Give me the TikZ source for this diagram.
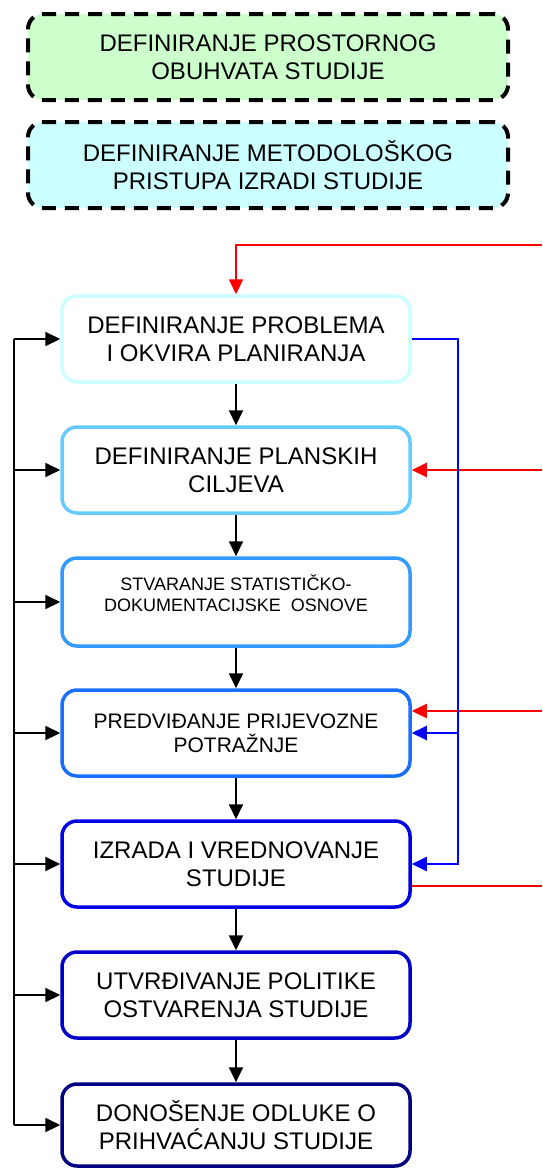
\documentclass[tikz,border=0pt]{standalone}
\usepackage{fontspec}
\setmainfont{Liberation Sans}
\usetikzlibrary{arrows.meta}

\definecolor{zelenaPod}{HTML}{CCFFCC}
\definecolor{plavaPod}{HTML}{CCFFFF}
\definecolor{rubA}{HTML}{CCFFFF}
\definecolor{rubB}{HTML}{66CCFF}
\definecolor{rubC}{HTML}{3399FF}
\definecolor{rubD}{HTML}{1A6FFF}
\definecolor{rubE}{HTML}{0000E6}
\definecolor{rubF}{HTML}{0000C8}
\definecolor{rubG}{HTML}{000080}

\begin{document}
\begin{tikzpicture}
    [ x=1pt, y=-1pt
    , korak/.style={draw, rounded corners=15pt, minimum width=348pt, minimum height=86pt,
                    line width=3.5pt, align=center, font=\fontsize{24}{27.5}\selectfont}
    , okvir/.style={draw, rounded corners=15pt, minimum width=480pt, minimum height=86pt,
                    line width=4pt, dash pattern=on 14pt off 9pt, align=center,
                    font=\fontsize{24}{27.5}\selectfont}
    , veza/.style={-{Triangle[length=15pt,width=14pt]}, line width=2pt}
    , vod/.style={line width=2pt}
    ]
    \useasboundingbox (0,0) rectangle (542,1168);

    % polazni okviri
    \node (prostor) [okvir, fill=zelenaPod] at (268,57)
        {DEFINIRANJE PROSTORNOG\\OBUHVATA STUDIJE};
    \node (metoda)  [okvir, fill=plavaPod]  at (268,165)
        {DEFINIRANJE METODOLOŠKOG\\PRISTUPA IZRADI STUDIJE};

    % koraci planiranja
    \node (problem)   [korak, draw=rubA] at (236,339)
        {DEFINIRANJE PROBLEMA\\I OKVIRA PLANIRANJA};
    \node (ciljevi)   [korak, draw=rubB] at (236,470)
        {DEFINIRANJE PLANSKIH\\CILJEVA};
    \node (osnova)    [korak, draw=rubC, minimum height=88pt,
                       font=\fontsize{18}{21}\selectfont] at (236,602)
        {STVARANJE STATISTIČKO-\\DOKUMENTACIJSKE~ OSNOVE\\[-4pt]\mbox{}};
    \node (potraznja) [korak, draw=rubD, font=\fontsize{21}{24}\selectfont] at (236,733)
        {PREDVIĐANJE PRIJEVOZNE\\POTRAŽNJE};
    \node (izrada)    [korak, draw=rubE] at (236,864)
        {IZRADA I VREDNOVANJE\\STUDIJE};
    \node (politika)  [korak, draw=rubF] at (236,995)
        {UTVRĐIVANJE POLITIKE\\OSTVARENJA STUDIJE};
    \node (odluka)    [korak, draw=rubG, minimum height=82pt] at (236,1125)
        {DONOŠENJE ODLUKE O\\PRIHVAĆANJU STUDIJE};

    \coordinate (lijevo) at (14,0);
    \coordinate (desno)  at (458,0);
    \coordinate (ulaz1)  at (542,245);
    \coordinate (ulaz2)  at (542,470);
    \coordinate (ulaz3)  at (542,711);
    \coordinate (izlaz)  at (542,886);

    % tok prema dolje
    \foreach \a/\b in {problem/ciljevi, ciljevi/osnova, osnova/potraznja,
                       potraznja/izrada, izrada/politika, politika/odluka}
        \draw [veza] (\a.south) -- (\b.north);

    % povratna veza lijevo
    \draw [vod] (lijevo |- problem.west) -- (lijevo |- odluka.west);
    \foreach \n in {problem, ciljevi, osnova, potraznja, izrada, politika, odluka}
        \draw [veza] (lijevo |- \n.west) -- (\n.west);

    % crvene veze
    \draw [veza, red] (ulaz1) -| (problem.north);
    \draw [veza, red] (ulaz2) -- (ciljevi.east);
    \draw [veza, red] (ulaz3) -- (ulaz3 -| potraznja.east);
    \draw [vod, red] (izrada.east |- izlaz) -- (izlaz);

    % plave veze
    \draw [veza, blue] (problem.east) -| (desno |- izrada.east) -- (izrada.east);
    \draw [veza, blue] (desno |- potraznja.east) -- (potraznja.east);
\end{tikzpicture}
\end{document}
